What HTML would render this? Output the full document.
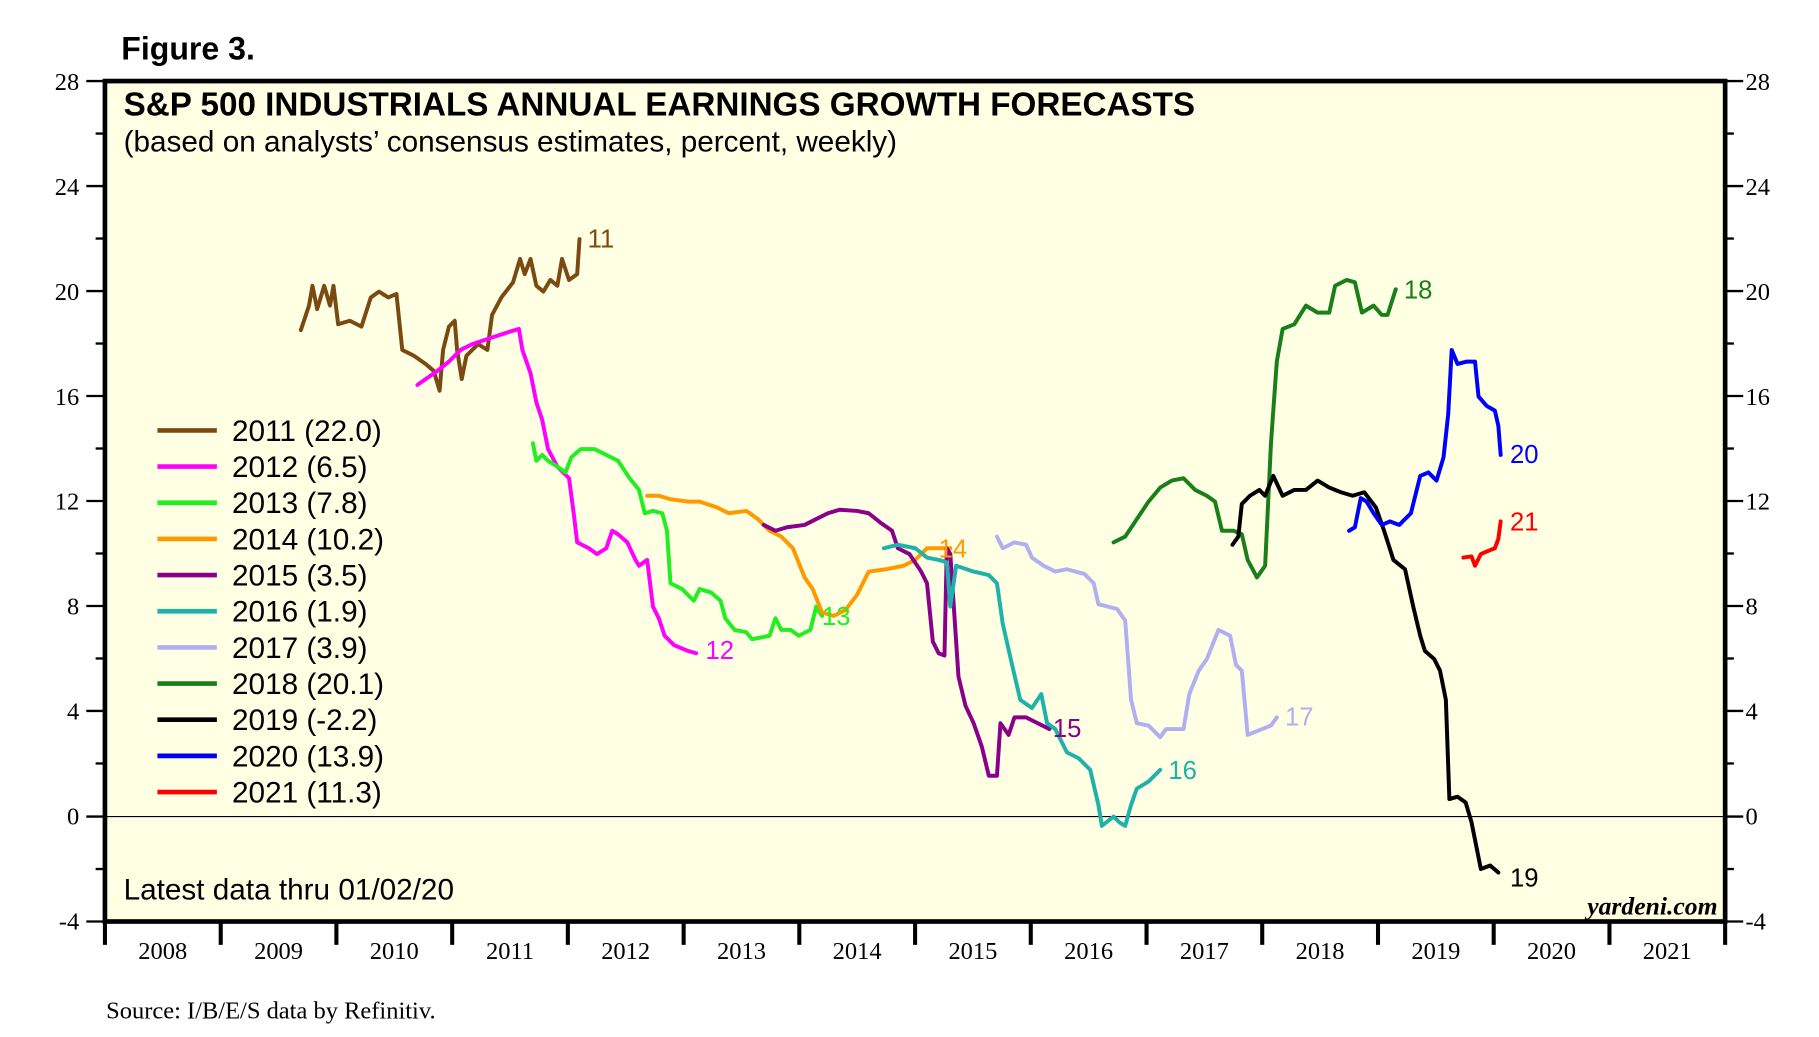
<!DOCTYPE html>
<html><head><meta charset="utf-8"><style>
html,body{margin:0;padding:0;background:#fff}
svg{display:block}
.s{font-family:"Liberation Serif",serif;font-size:21px;fill:#000}
.a{font-family:"Liberation Sans",sans-serif;fill:#000}
polyline{fill:none;stroke-width:3.4;stroke-linejoin:round;stroke-linecap:round}
</style></head><body>
<svg width="1819" height="1037" viewBox="0 0 1560 889" preserveAspectRatio="none">
<rect x="90" y="69.5" width="1389.5" height="720.5" fill="#FFFFE3"/>
<line x1="90" y1="700" x2="1479.5" y2="700" stroke="#000" stroke-width="1"/>
<g stroke="#000" stroke-width="2">
<line x1="74" y1="69.5" x2="90" y2="69.5"/><line x1="82" y1="114.5" x2="90" y2="114.5"/>
<line x1="74" y1="159.5" x2="90" y2="159.5"/><line x1="82" y1="204.5" x2="90" y2="204.5"/>
<line x1="74" y1="249.5" x2="90" y2="249.5"/><line x1="82" y1="294.5" x2="90" y2="294.5"/>
<line x1="74" y1="339.5" x2="90" y2="339.5"/><line x1="82" y1="384.5" x2="90" y2="384.5"/>
<line x1="74" y1="429.5" x2="90" y2="429.5"/><line x1="82" y1="474.5" x2="90" y2="474.5"/>
<line x1="74" y1="519.5" x2="90" y2="519.5"/><line x1="82" y1="564.5" x2="90" y2="564.5"/>
<line x1="74" y1="609.5" x2="90" y2="609.5"/><line x1="82" y1="654.5" x2="90" y2="654.5"/>
<line x1="74" y1="700" x2="90" y2="700"/><line x1="82" y1="745" x2="90" y2="745"/>
<line x1="74" y1="790" x2="90" y2="790"/>
<line x1="1479" y1="69.5" x2="1495" y2="69.5"/><line x1="1479" y1="114.5" x2="1487" y2="114.5"/>
<line x1="1479" y1="159.5" x2="1495" y2="159.5"/><line x1="1479" y1="204.5" x2="1487" y2="204.5"/>
<line x1="1479" y1="249.5" x2="1495" y2="249.5"/><line x1="1479" y1="294.5" x2="1487" y2="294.5"/>
<line x1="1479" y1="339.5" x2="1495" y2="339.5"/><line x1="1479" y1="384.5" x2="1487" y2="384.5"/>
<line x1="1479" y1="429.5" x2="1495" y2="429.5"/><line x1="1479" y1="474.5" x2="1487" y2="474.5"/>
<line x1="1479" y1="519.5" x2="1495" y2="519.5"/><line x1="1479" y1="564.5" x2="1487" y2="564.5"/>
<line x1="1479" y1="609.5" x2="1495" y2="609.5"/><line x1="1479" y1="654.5" x2="1487" y2="654.5"/>
<line x1="1479" y1="700" x2="1495" y2="700"/><line x1="1479" y1="745" x2="1487" y2="745"/>
<line x1="1479" y1="790" x2="1495" y2="790"/>
</g>
<g stroke="#000" stroke-width="3.5">
<line x1="90" y1="790" x2="90" y2="810"/><line x1="189.3" y1="790" x2="189.3" y2="810"/>
<line x1="288.5" y1="790" x2="288.5" y2="810"/><line x1="387.8" y1="790" x2="387.8" y2="810"/>
<line x1="487" y1="790" x2="487" y2="810"/><line x1="586.3" y1="790" x2="586.3" y2="810"/>
<line x1="685.5" y1="790" x2="685.5" y2="810"/><line x1="784.8" y1="790" x2="784.8" y2="810"/>
<line x1="884" y1="790" x2="884" y2="810"/><line x1="983.3" y1="790" x2="983.3" y2="810"/>
<line x1="1082.5" y1="790" x2="1082.5" y2="810"/><line x1="1181.8" y1="790" x2="1181.8" y2="810"/>
<line x1="1281" y1="790" x2="1281" y2="810"/><line x1="1380.3" y1="790" x2="1380.3" y2="810"/>
<line x1="1479.5" y1="790" x2="1479.5" y2="810"/>
</g>
<rect x="90" y="69.5" width="1389.5" height="720.5" fill="none" stroke="#000" stroke-width="4"/>
<g class="s" text-anchor="end">
<text x="68" y="77">28</text><text x="68" y="167">24</text><text x="68" y="257">20</text><text x="68" y="347">16</text>
<text x="68" y="437">12</text><text x="68" y="527">8</text><text x="68" y="617">4</text><text x="68" y="707">0</text><text x="68" y="797">-4</text>
</g>
<g class="s">
<text x="1497" y="77">28</text><text x="1497" y="167">24</text><text x="1497" y="257">20</text><text x="1497" y="347">16</text>
<text x="1497" y="437">12</text><text x="1497" y="527">8</text><text x="1497" y="617">4</text><text x="1497" y="707">0</text><text x="1497" y="797">-4</text>
</g>
<g class="s" text-anchor="middle">
<text x="139.6" y="822">2008</text><text x="238.9" y="822">2009</text><text x="338.1" y="822">2010</text><text x="437.4" y="822">2011</text>
<text x="536.6" y="822">2012</text><text x="635.9" y="822">2013</text><text x="735.1" y="822">2014</text><text x="834.4" y="822">2015</text>
<text x="933.6" y="822">2016</text><text x="1032.9" y="822">2017</text><text x="1132.1" y="822">2018</text><text x="1231.4" y="822">2019</text>
<text x="1330.6" y="822">2020</text><text x="1429.9" y="822">2021</text>
</g>
<text class="s" x="91" y="873" font-size="22.5">Source: I/B/E/S data by Refinitiv.</text>
<text class="a" x="104" y="51" font-size="27.5" font-weight="bold">Figure 3.</text>
<text class="a" x="106" y="99" font-size="28.5" font-weight="bold">S&amp;P 500 INDUSTRIALS ANNUAL EARNINGS GROWTH FORECASTS</text>
<text class="a" x="106" y="130" font-size="25.5">(based on analysts’ consensus estimates, percent, weekly)</text>
<text class="a" x="106" y="771" font-size="25.5">Latest data thru 01/02/20</text>
<text x="1473" y="784" text-anchor="end" font-family="Liberation Serif,serif" font-size="22" font-weight="bold" font-style="italic">yardeni.com</text>

<g stroke-width="4" stroke-linecap="butt">
<line x1="135" y1="369" x2="186" y2="369" stroke="#7B4A12"/>
<line x1="135" y1="400" x2="186" y2="400" stroke="#FF00FF"/>
<line x1="135" y1="431" x2="186" y2="431" stroke="#22EE22"/>
<line x1="135" y1="462" x2="186" y2="462" stroke="#FF9900"/>
<line x1="135" y1="493" x2="186" y2="493" stroke="#8B008B"/>
<line x1="135" y1="524" x2="186" y2="524" stroke="#20B2AA"/>
<line x1="135" y1="555" x2="186" y2="555" stroke="#B0B0F0"/>
<line x1="135" y1="586" x2="186" y2="586" stroke="#1A7F1A"/>
<line x1="135" y1="617" x2="186" y2="617" stroke="#000"/>
<line x1="135" y1="648" x2="186" y2="648" stroke="#0000FF"/>
<line x1="135" y1="679" x2="186" y2="679" stroke="#FF0000"/>
</g>
<g class="a" font-size="25.5">
<text x="199" y="378">2011 (22.0)</text><text x="199" y="409">2012 (6.5)</text><text x="199" y="440">2013 (7.8)</text>
<text x="199" y="471">2014 (10.2)</text><text x="199" y="502">2015 (3.5)</text><text x="199" y="533">2016 (1.9)</text>
<text x="199" y="564">2017 (3.9)</text><text x="199" y="595">2018 (20.1)</text><text x="199" y="626">2019 (-2.2)</text>
<text x="199" y="657">2020 (13.9)</text><text x="199" y="688">2021 (11.3)</text>
</g>

<polyline stroke="#7B4A12" points="258,283 265,262 268,245 272,265 278,245 283,262 286,245 290,278 300,275 310,280 318,255 325,250 333,255 340,252 345,300 355,305 365,312 372,318 377,335 380,300 385,280 390,275 392,300 396,325 400,305 410,295 418,300 422,270 430,255 440,242 446,222 450,235 455,222 460,245 466,250 472,240 478,245 482,222 488,240 495,235 497,205"/>
<polyline stroke="#FF00FF" points="358,330 365,325 375,318 385,310 395,300 405,295 420,290 435,285 445,282 448,300 455,320 460,345 465,360 470,385 478,400 488,410 492,440 495,465 505,470 512,475 520,470 525,455 530,458 538,465 545,480 548,485 555,480 560,520 565,530 570,545 578,553 590,558 597,560"/>
<polyline stroke="#22EE22" points="457,380 460,395 465,390 470,395 478,400 485,405 490,392 498,385 510,385 520,390 530,395 540,410 548,420 553,440 560,438 568,440 572,455 575,500 585,505 595,515 600,505 610,508 618,515 622,530 630,540 640,542 645,548 660,545 665,530 670,540 678,540 685,545 695,540 700,520 705,528"/>
<polyline stroke="#FF9900" points="555,425 565,425 575,428 590,430 600,430 615,435 625,440 640,438 650,445 660,455 670,460 680,470 690,495 697,505 705,525 715,528 725,523 735,510 745,490 760,488 775,485 785,480 795,470 805,470 815,470"/>
<polyline stroke="#8B008B" points="655,450 665,455 675,452 690,450 700,445 710,440 720,437 735,438 745,440 755,448 765,455 770,470 780,475 790,490 795,500 800,550 805,560 810,562 812,470 815,475 818,520 822,580 828,605 835,620 842,640 848,665 855,665 858,620 865,630 870,615 880,615 890,620 900,625"/>
<polyline stroke="#20B2AA" points="758,470 770,467 785,470 795,478 805,480 812,482 815,520 820,485 835,490 848,493 855,500 860,535 868,570 875,600 885,607 893,595 898,620 905,625 915,645 925,650 935,660 942,690 945,708 955,700 960,705 965,708 970,690 975,676 985,670 995,660"/>
<polyline stroke="#B0B0F0" points="855,460 860,470 870,465 880,467 885,478 895,485 905,490 915,488 930,492 938,500 942,518 950,520 958,522 965,532 970,600 975,620 985,622 995,632 1000,625 1015,625 1020,595 1028,575 1035,565 1045,540 1055,545 1060,570 1065,575 1070,630 1080,626 1090,622 1095,615"/>
<polyline stroke="#1A7F1A" points="955,465 965,460 975,445 985,430 995,418 1005,412 1015,410 1025,420 1035,425 1042,430 1048,455 1058,455 1065,458 1070,480 1078,495 1085,485 1090,380 1095,310 1100,282 1110,278 1115,270 1120,262 1130,268 1140,268 1145,245 1155,240 1162,242 1168,268 1178,262 1185,270 1190,270 1197,248"/>
<polyline stroke="#000" points="1057,467 1062,460 1065,432 1072,425 1080,420 1085,425 1092,408 1100,425 1110,420 1120,420 1130,412 1140,418 1150,422 1160,425 1170,422 1180,435 1187,455 1195,480 1205,488 1212,520 1218,545 1222,558 1230,565 1235,575 1240,600 1243,685 1250,683 1257,688 1262,705 1266,725 1270,745 1278,742 1285,748"/>
<polyline stroke="#0000FF" points="1157,455 1162,452 1167,427 1172,430 1178,440 1185,450 1192,447 1200,450 1210,440 1218,408 1225,405 1232,412 1238,392 1242,355 1245,300 1250,312 1258,310 1265,310 1268,340 1275,348 1282,352 1285,365 1287,390"/>
<polyline stroke="#FF0000" points="1255,478 1262,477 1265,485 1270,475 1277,472 1282,470 1285,462 1287,447"/>

<g class="a" font-size="22">
<text x="504" y="212" fill="#7B4A12">11</text>
<text x="605" y="565" fill="#FF00FF">12</text>
<text x="705" y="536" fill="#22EE22">13</text>
<text x="805" y="478" fill="#FF9900">14</text>
<text x="903" y="632" fill="#8B008B">15</text>
<text x="1002" y="668" fill="#20B2AA">16</text>
<text x="1102" y="622" fill="#B0B0F0">17</text>
<text x="1204" y="256" fill="#1A7F1A">18</text>
<text x="1295" y="760" fill="#000">19</text>
<text x="1295" y="397" fill="#0000FF">20</text>
<text x="1295" y="455" fill="#FF0000">21</text>
</g>
</svg>
</body></html>
